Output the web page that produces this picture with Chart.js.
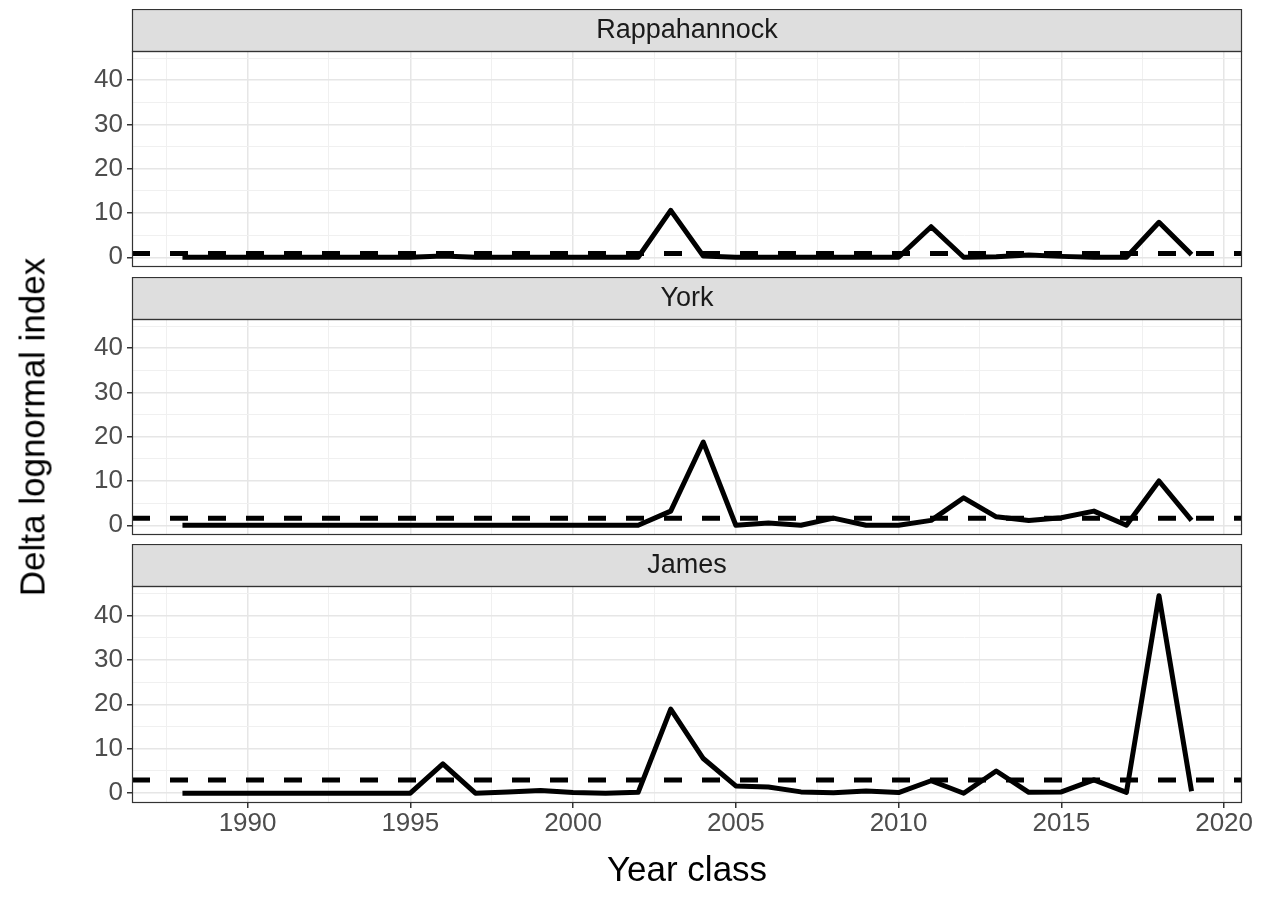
<!DOCTYPE html>
<html><head><meta charset="utf-8">
<script src="https://cdn.jsdelivr.net/npm/chart.js@4.4.1/dist/chart.umd.min.js"></script>
<style>
html,body{margin:0;padding:0;background:#fff;width:1263px;height:918px;overflow:hidden;position:relative}
canvas{position:absolute;left:0}
#ytitle{position:absolute;left:32px;top:427px;transform:translate(-50%,-50%) rotate(-90deg);white-space:nowrap;
  font:35px 'Liberation Sans', Arial, sans-serif;color:#000;line-height:1}
</style></head><body>
<canvas id="c1" width="1263" height="272" style="top:9px"></canvas>
<canvas id="c2" width="1263" height="272" style="top:277px"></canvas>
<canvas id="c3" width="1263" height="374" style="top:544px"></canvas>
<div id="ytitle">Delta lognormal index</div>
<script>
const YEARS = [1988,1989,1990,1991,1992,1993,1994,1995,1996,1997,1998,1999,2000,2001,2002,2003,2004,2005,2006,2007,2008,2009,2010,2011,2012,2013,2014,2015,2016,2017,2018,2019];
const RAPP  = [0,0,0,0,0,0,0,0,0.3,0,0,0,0,0,0,10.6,0.3,0,0,0,0,0,0,6.9,0,0.1,0.5,0.2,0,0,7.9,0.6];
const YORK  = [0,0,0,0,0,0,0,0,0,0,0,0,0,0,0,3.2,18.8,0,0.5,0,1.6,0,0,1.1,6.2,1.9,1.1,1.7,3.2,0,10.0,1.1];
const JAMES = [0,0,0,0,0,0,0,0,6.6,0,0.3,0.6,0.15,0,0.2,18.9,7.8,1.65,1.4,0.3,0.1,0.5,0.15,2.8,0,5.0,0.2,0.3,3.0,0.2,44.4,0.45];
const PANELS = ['Rappahannock','York','James'];
const MEANS = [0.86, 1.58, 2.97];
const X_TICKS = [1987.5,1990,1992.5,1995,1997.5,2000,2002.5,2005,2007.5,2010,2012.5,2015,2017.5,2020];
const Y_TICKS = [0,5,10,15,20,25,30,35,40,45];
const X_RANGE = [1986.45, 2020.55];
const Y_RANGE = [-2.2, 46.6];

Chart.defaults.font.family = "'Liberation Sans', Arial, sans-serif";
Chart.defaults.animation = false;

const stripPlugin = {
  id: 'strip',
  afterDraw(chart, args, opts) {
    const {ctx, chartArea: a} = chart;
    const L = Math.round(a.left), R = Math.round(a.right), T = Math.round(a.top), B = Math.round(a.bottom);
    ctx.save();
    ctx.fillStyle = '#DEDEDE';
    ctx.fillRect(L, T - 42, R - L, 42);
    ctx.strokeStyle = '#333333';
    ctx.lineWidth = 1.2;
    ctx.strokeRect(L + 0.5, T - 41.5, R - L - 1, 42);
    ctx.strokeRect(L + 0.5, T + 0.5, R - L - 1, B - T - 1);
    ctx.fillStyle = '#1A1A1A';
    ctx.font = "27px 'Liberation Sans', Arial, sans-serif";
    ctx.textAlign = 'center';
    ctx.textBaseline = 'middle';
    ctx.fillText(opts.label, (L + R) / 2, T - 20);
    ctx.restore();
  }
};

function makeChart(id, idx, values, bottom) {
  const isMajorX = v => Math.abs(v % 5) < 1e-9;
  const isMajorY = v => Math.abs(v % 10) < 1e-9;
  return new Chart(document.getElementById(id), {
    type: 'line',
    data: {
      datasets: [
        {
          data: YEARS.map((y, i) => ({x: y, y: values[i]})),
          borderColor: '#000', borderWidth: 5, pointRadius: 0, tension: 0,
          borderJoinStyle: 'round', borderCapStyle: 'butt', fill: false
        },
        {
          data: [{x: X_RANGE[0], y: MEANS[idx]}, {x: X_RANGE[1], y: MEANS[idx]}],
          borderColor: '#000', borderWidth: 5, pointRadius: 0, borderDash: [18, 20],
          borderCapStyle: 'butt', fill: false
        }
      ]
    },
    options: {
      responsive: false,
      layout: {padding: {top: 42, right: 21, bottom: bottom ? 0 : 14, left: 0}},
      plugins: {legend: {display: false}, tooltip: {enabled: false}, strip: {label: PANELS[idx]}},
      scales: {
        x: {
          type: 'linear', min: X_RANGE[0], max: X_RANGE[1],
          afterBuildTicks: s => { s.ticks = X_TICKS.map(v => ({value: v})); },
          afterFit: s => { s.height = bottom ? 115 : 0; s.paddingLeft = 0; s.paddingRight = 0; },
          border: {display: false},
          grid: {
            color: c => isMajorX(c.tick.value) ? '#E6E6E6' : '#F0F0F0',
            lineWidth: c => isMajorX(c.tick.value) ? 1.5 : 1,
            drawTicks: bottom, tickLength: 5,
            tickColor: c => isMajorX(c.tick.value) ? '#333333' : 'rgba(0,0,0,0)'
          },
          ticks: {
            display: bottom, autoSkip: false, maxRotation: 0, padding: 0,
            color: '#4D4D4D', font: {size: 26},
            callback: v => isMajorX(v) ? String(v) : ''
          },
          title: {
            display: bottom, text: 'Year class', color: '#000',
            font: {size: 35}, padding: {top: 0, bottom: 26}
          }
        },
        y: {
          type: 'linear', min: Y_RANGE[0], max: Y_RANGE[1],
          afterBuildTicks: s => { s.ticks = Y_TICKS.map(v => ({value: v})); },
          afterFit: s => { s.width = 132; s.paddingTop = 0; s.paddingBottom = 0; },
          border: {display: false},
          grid: {
            color: c => isMajorY(c.tick.value) ? '#E6E6E6' : '#F0F0F0',
            lineWidth: c => isMajorY(c.tick.value) ? 1.5 : 1,
            drawTicks: true, tickLength: 5,
            tickColor: c => isMajorY(c.tick.value) ? '#333333' : 'rgba(0,0,0,0)'
          },
          ticks: {
            autoSkip: false, padding: 4, color: '#4D4D4D', font: {size: 26},
            callback: v => isMajorY(v) ? String(v) : ''
          }
        }
      }
    },
    plugins: [stripPlugin]
  });
}

makeChart('c1', 0, RAPP, false);
makeChart('c2', 1, YORK, false);
makeChart('c3', 2, JAMES, true);
</script>
</body></html>
